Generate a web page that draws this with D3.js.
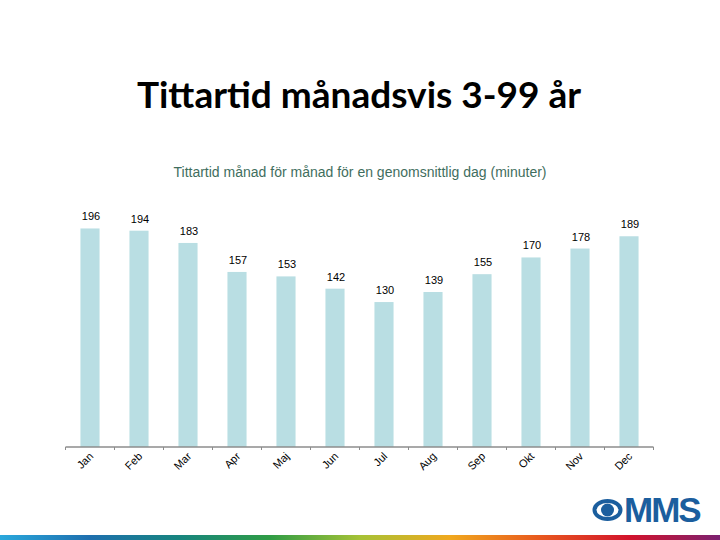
<!DOCTYPE html>
<html>
<head>
<meta charset="utf-8">
<script src="https://cdn.jsdelivr.net/npm/d3@7"></script>
<style>
body { margin: 0; background: #fff; }
svg { display: block; }
</style>
</head>
<body>
<script>
var width = 720, height = 540;

// data
var months = ["Jan", "Feb", "Mar", "Apr", "Maj", "Jun", "Jul", "Aug", "Sep", "Okt", "Nov", "Dec"];
var minutes = [196, 194, 183, 157, 153, 142, 130, 139, 155, 170, 178, 189];
var stripColors = ["#2aa8dc", "#1e6fae", "#17857e", "#2f9c45", "#a6c236", "#f0a81e", "#e8581e", "#d2132c", "#7b2171"];

var svg = d3.select("body").append("svg")
    .attr("width", width)
    .attr("height", height);

// title + subtitle
svg.append("text")
    .attr("x", 359).attr("y", 108)
    .attr("text-anchor", "middle")
    .style("font-family", "Lato, 'Open Sans', sans-serif")
    .style("font-weight", "bold")
    .style("font-size", "37px")
    .attr("fill", "#000")
    .text("Tittartid månadsvis 3-99 år");

svg.append("text")
    .attr("x", 360).attr("y", 177)
    .attr("text-anchor", "middle")
    .style("font-family", "'Liberation Sans', Arial, sans-serif")
    .style("font-size", "14px")
    .attr("fill", "#3f6e5e")
    .text("Tittartid månad för månad för en genomsnittlig dag (minuter)");

var x = d3.scaleBand()
    .domain(months)
    .range([65.5, 653.5])
    .paddingInner(0.61)
    .paddingOuter(0.305);

var y = d3.scaleLinear()
    .domain([0, 200])
    .range([447, 224]);

var g = svg.append("g");

g.selectAll("rect.bar")
    .data(minutes)
    .enter().append("rect")
    .attr("class", "bar")
    .attr("x", function(d, i) { return x(months[i]); })
    .attr("width", x.bandwidth())
    .attr("y", function(d) { return y(d); })
    .attr("height", function(d) { return y(0) - y(d); })
    .attr("fill", "#b9dee3");

g.selectAll("text.val")
    .data(minutes)
    .enter().append("text")
    .attr("class", "val")
    .attr("x", function(d, i) { return x(months[i]) + x.bandwidth() / 2 + 1; })
    .attr("y", function(d) { return y(d) - 8; })
    .attr("text-anchor", "middle")
    .style("font-family", "'Liberation Sans', Arial, sans-serif")
    .style("font-size", "11px")
    .attr("fill", "#000")
    .text(function(d) { return d; });

// x axis: ticks on band edges
var tickPos = d3.range(months.length + 1).map(function(i) { return 65.5 + i * x.step(); });
var axis = svg.append("g");
axis.append("line")
    .attr("x1", 65.5).attr("x2", 653.5)
    .attr("y1", 447).attr("y2", 447)
    .attr("stroke", "#8c8c8c").attr("stroke-width", 1.5);
axis.selectAll("line.tick")
    .data(tickPos)
    .enter().append("line")
    .attr("class", "tick")
    .attr("x1", function(d) { return d; }).attr("x2", function(d) { return d; })
    .attr("y1", 447).attr("y2", 450)
    .attr("stroke", "#8c8c8c");

axis.selectAll("text.lab")
    .data(months)
    .enter().append("text")
    .attr("class", "lab")
    .attr("text-anchor", "end")
    .attr("transform", function(d) {
        return "translate(" + (x(d) + x.bandwidth() / 2 + 4) + ",457)rotate(-45)";
    })
    .style("font-family", "'Liberation Sans', Arial, sans-serif")
    .style("font-size", "11px")
    .attr("fill", "#000")
    .text(function(d) { return d; });

// logo
var logo = svg.append("g").attr("transform", "translate(607.5,510)");
logo.append("ellipse")
    .attr("rx", 13).attr("ry", 9)
    .attr("fill", "none").attr("stroke", "#1b5e9e").attr("stroke-width", 4);
logo.append("circle").attr("r", 6.5).attr("fill", "#1b5e9e");
svg.append("text")
    .attr("x", 624).attr("y", 522)
    .style("font-family", "'Liberation Sans', Arial, sans-serif")
    .style("font-weight", "bold")
    .style("font-size", "35px")
    .style("letter-spacing", "-2px")
    .attr("fill", "#1b5e9e")
    .text("MMS");

// rainbow strip at the bottom
var grad = svg.append("defs").append("linearGradient").attr("id", "strip");
grad.selectAll("stop")
    .data(stripColors)
    .enter().append("stop")
    .attr("offset", function(d, i) { return i / (stripColors.length - 1); })
    .attr("stop-color", function(d) { return d; });
svg.append("rect")
    .attr("x", 0).attr("y", 535)
    .attr("width", width).attr("height", 5)
    .attr("fill", "url(#strip)");
</script>
</body>
</html>
